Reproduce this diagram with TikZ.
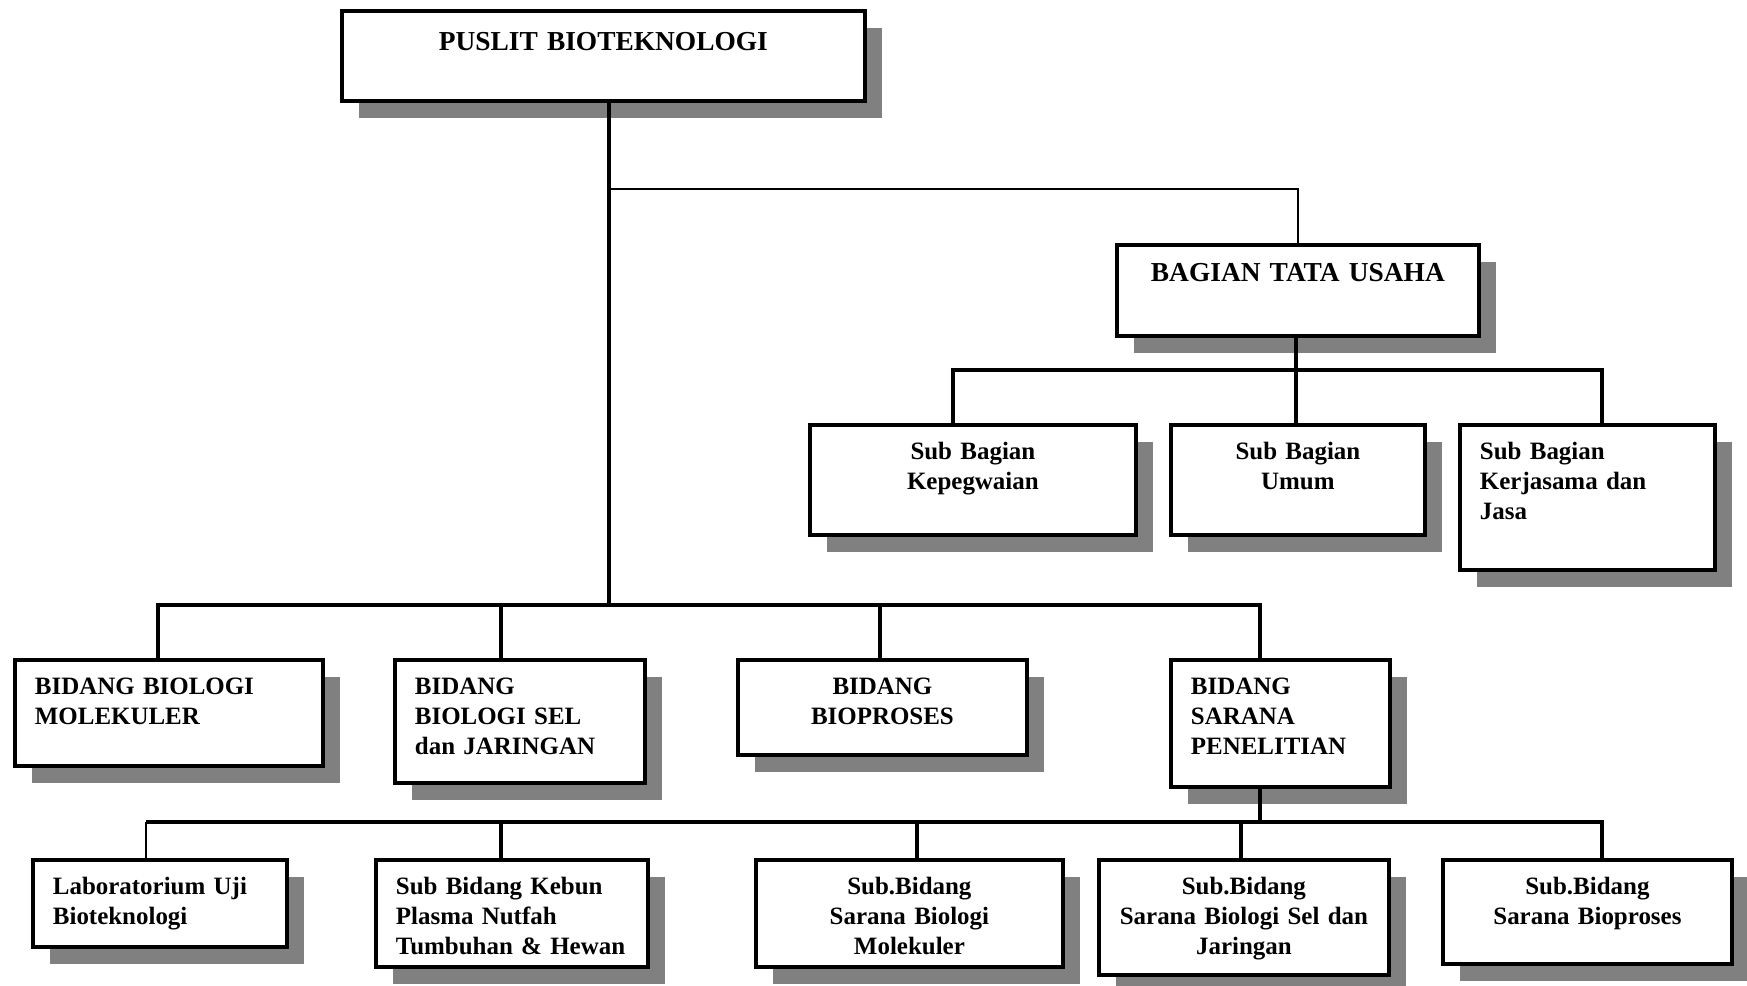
\documentclass[tikz,border=0pt]{standalone}
\usepackage{fontspec}
\setmainfont{Liberation Serif}
\usetikzlibrary{shadows}
\tikzset{
  unit/.style={draw, line width=2.2pt, fill=white, anchor=north west,
    inner xsep=0.4cm, inner ysep=0pt, text height=0.7cm,
    font=\bfseries\fontsize{14.2}{17}\selectfont,
    drop shadow={shadow xshift=0.34cm, shadow yshift=-0.34cm, fill=black!50, opacity=1}},
  headunit/.style={unit, font=\bfseries\fontsize{15.6}{18}\selectfont},
  link/.style={line width=2pt},
  thinlink/.style={line width=0.8pt}
}
\begin{document}
\begin{tikzpicture}[x=0.02cm, y=-0.02cm]
\useasboundingbox (0,0) rectangle (1747,986);

\node[headunit, text width=9.66cm, align=center, text height=0.8cm, text depth=1.0cm] (puslit) at (340,9) {PUSLIT BIOTEKNOLOGI};
\node[headunit, text width=6.44cm, align=center, text height=0.74cm, text depth=1.08cm] (tu) at (1115,243) {BAGIAN TATA USAHA};

\node[unit, text width=5.72cm, align=center, text depth=1.5cm] (kep) at (808,423) {Sub Bagian\\Kepegwaian};
\node[unit, text width=4.28cm, align=center, text depth=1.5cm] (umum) at (1169,423) {Sub Bagian\\Umum};
\node[unit, text width=4.3cm, align=left, text depth=2.2cm] (kerja) at (1458,423) {Sub Bagian\\Kerjasama~dan\\Jasa};

\node[unit, text width=5.36cm, align=left, text depth=1.42cm] (biomol) at (13,658) {BIDANG~BIOLOGI\\MOLEKULER};
\node[unit, text width=4.2cm, align=left, text depth=1.76cm] (biosel) at (393,658) {BIDANG\\BIOLOGI~SEL\\dan~JARINGAN};
\node[unit, text width=4.98cm, align=center, text depth=1.2cm] (bioproses) at (736,658) {BIDANG\\BIOPROSES};
\node[unit, text width=3.58cm, align=left, text depth=1.84cm] (sarana) at (1169,658) {BIDANG\\SARANA\\PENELITIAN};

\node[unit, text width=4.28cm, align=left, text depth=1.04cm] (lab) at (31,858) {Laboratorium~Uji\\Bioteknologi};
\node[unit, text width=4.64cm, align=left, text depth=1.44cm] (kebun) at (374,858) {Sub~Bidang~Kebun\\Plasma~Nutfah\\Tumbuhan~\&~Hewan};
\node[unit, text width=5.34cm, align=center, text depth=1.44cm] (sbmol) at (754,858) {Sub.Bidang\\Sarana~Biologi\\Molekuler};
\node[unit, text width=5.0cm, align=center, text depth=1.6cm] (sbsel) at (1097,858) {Sub.Bidang\\Sarana~Biologi~Sel~dan\\Jaringan};
\node[unit, text width=4.98cm, align=center, text depth=1.38cm] (sbbio) at (1441,858) {Sub.Bidang\\Sarana~Bioproses};

\coordinate (spine) at (609,605);
\coordinate (tujoint) at (609,189);
\draw[link] (spine |- puslit.south) -- (spine);
\draw[thinlink] (tujoint) -| (tu.north);

\coordinate (tubus) at (1296,370);
\coordinate (kepdrop) at (953,370);
\coordinate (kerjadrop) at (1602,370);
\draw[link] (tubus |- tu.south) -- (tubus);
\draw[link] (kepdrop |- kep.north) -- (kepdrop) -- (kerjadrop) -- (kerjadrop |- kerja.north);
\draw[link] (tubus) -- (tubus |- umum.north);

\coordinate (bmdrop) at (158,605);
\coordinate (bsdrop) at (501,605);
\coordinate (bpdrop) at (880,605);
\coordinate (spdrop) at (1260,605);
\draw[link] (bmdrop |- biomol.north) -- (bmdrop) -- (spdrop) -- (spdrop |- sarana.north);
\draw[link] (bsdrop) -- (bsdrop |- biosel.north);
\draw[link] (bpdrop) -- (bpdrop |- bioproses.north);

\coordinate (subbus) at (1260,822);
\coordinate (labdrop) at (146,822);
\coordinate (kebundrop) at (501,822);
\coordinate (sbmoldrop) at (917,822);
\coordinate (sbseldrop) at (1241,822);
\coordinate (sbbiodrop) at (1602,822);
\draw[link] (spdrop |- sarana.south) -- (subbus);
\draw[link] (labdrop) -- (sbbiodrop) -- (sbbiodrop |- sbbio.north);
\draw[thinlink] (labdrop) -- (labdrop |- lab.north);
\draw[link] (kebundrop) -- (kebundrop |- kebun.north);
\draw[link] (sbmoldrop) -- (sbmoldrop |- sbmol.north);
\draw[link] (sbseldrop) -- (sbseldrop |- sbsel.north);
\end{tikzpicture}
\end{document}
